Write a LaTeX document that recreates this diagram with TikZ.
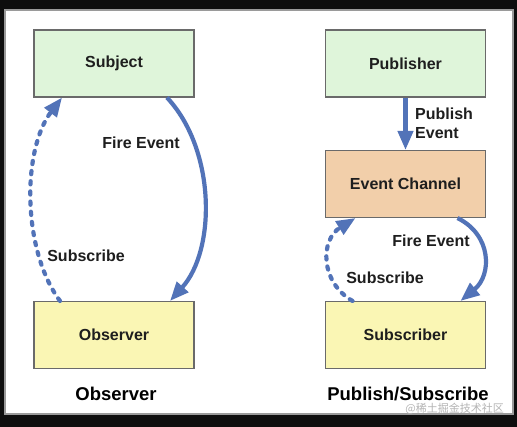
\documentclass[tikz,border=0pt]{standalone}
\usepackage{fontspec}
\setmainfont{Liberation Sans}
\newfontfamily\cjk{Noto Sans CJK SC}
\usetikzlibrary{arrows.meta}
\definecolor{bgblack}{HTML}{0E0E0E}
\definecolor{framegray}{HTML}{9A9A9A}
\definecolor{boxline}{HTML}{6A6A6A}
\definecolor{greenfill}{HTML}{DFF5DA}
\definecolor{yellowfill}{HTML}{FAF6B4}
\definecolor{tanfill}{HTML}{F2CFAA}
\definecolor{arrowblue}{HTML}{5273B8}
\definecolor{txt}{HTML}{1E1E1E}
\definecolor{wmgray}{HTML}{B4B4B4}
\tikzset{
  box/.style={draw=boxline, line width=1.1pt, minimum width=160pt, minimum height=67pt,
    inner sep=0pt, font=\fontsize{16}{19}\selectfont\bfseries, text=txt},
  lbl/.style={font=\fontsize{16}{19}\selectfont\bfseries, text=txt, inner sep=0pt},
  ttl/.style={font=\fontsize{18.5}{22}\selectfont\bfseries, text=black, inner sep=0pt},
  solidarrow/.style={draw=arrowblue, line width=4.2pt,
    -{Triangle[length=19pt,width=15pt]}},
  dasharrow/.style={draw=arrowblue, line width=4.2pt, line cap=round,
    dash pattern=on 3.2pt off 7pt, -{Triangle[length=19pt,width=15pt]}},
}
\begin{document}
\begin{tikzpicture}[x=1pt,y=-1pt]
  \fill[bgblack] (0,0) rectangle (517,427);
  \useasboundingbox (0,0) rectangle (517,427);
  \filldraw[fill=white, draw=framegray, line width=1.2pt] (5,10) rectangle (513,414);

  % Observer side
  \node[box, fill=greenfill] (subj) at (114,63.5) {Subject};
  \node[box, fill=yellowfill] (obs) at (114,335) {Observer};
  \node[ttl] (obstitle) at (116,394) {Observer};

  \draw[solidarrow] ([xshift=53pt]subj.south) .. controls (216,150) and (216,250) .. ([xshift=56pt]obs.north);
  \draw[dasharrow] ([xshift=-54pt]obs.north) .. controls (22,250) and (22,150) .. ([xshift=-52pt]subj.south);
  \node[lbl] (fire1) at (141,143) {Fire Event};
  \node[lbl] (sub1) at (86,256) {Subscribe};

  % Publish/Subscribe side
  \node[box, fill=greenfill] (pub) at (405.5,63.5) {Publisher};
  \node[box, fill=tanfill] (chan) at (405.5,184) {Event Channel};
  \node[box, fill=yellowfill] (subs) at (405.5,335) {Subscriber};
  \node[ttl] (pstitle) at (408,394) {Publish/Subscribe};

  \draw[solidarrow] (pub.south) -- (chan.north);
  \node[lbl, align=left, anchor=west] (publbl) at (415,123) {Publish\\Event};

  \draw[solidarrow] ([xshift=52pt]chan.south) .. controls (492,235) and (492,275) .. ([xshift=55pt]subs.north);
  \draw[dasharrow] ([xshift=-53pt]subs.north) .. controls (320,282) and (320,240) .. ([xshift=-50pt]chan.south);
  \node[lbl] (fire2) at (431,241) {Fire Event};
  \node[lbl] (sub2) at (385,278) {Subscribe};

  \node[font=\cjk\fontsize{11}{13}\selectfont, text=wmgray, inner sep=0pt, anchor=east] (wm) at (504,409) {@稀土掘金技术社区};
\end{tikzpicture}
\end{document}
